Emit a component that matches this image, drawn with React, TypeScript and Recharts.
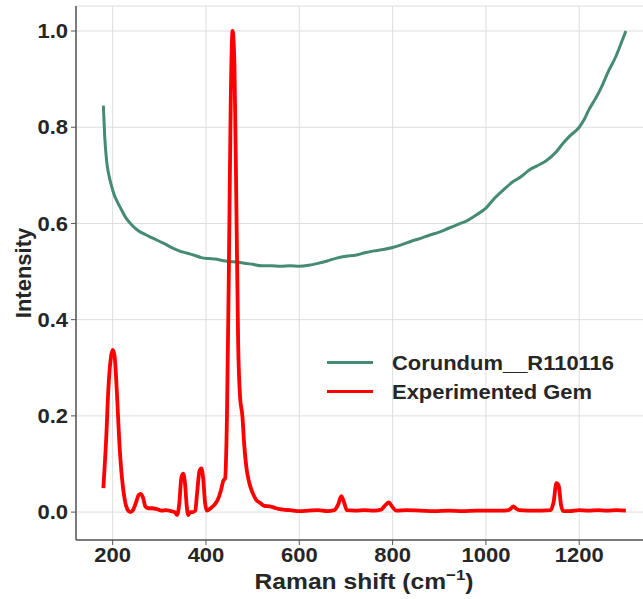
import React from "react";
import { LineChart, Line, XAxis, YAxis, CartesianGrid, Label } from "recharts";

const corundumX = [180, 183, 187, 192, 197, 203, 210, 218, 228, 240, 255, 270, 285, 300, 315, 330, 345, 360, 375, 390, 405, 420, 435, 450, 465, 480, 500, 520, 540, 560, 580, 600, 620, 640, 660, 680, 700, 720, 740, 760, 780, 800, 820, 840, 860, 880, 900, 920, 940, 960, 980, 1000, 1018, 1040, 1057, 1075, 1093, 1110, 1130, 1150, 1164, 1180, 1200, 1210, 1220, 1235, 1248, 1262, 1278, 1290, 1300];
const corundumY = [0.845, 0.78, 0.73, 0.7, 0.68, 0.66, 0.645, 0.63, 0.612, 0.598, 0.585, 0.577, 0.57, 0.563, 0.556, 0.548, 0.542, 0.538, 0.534, 0.529, 0.527, 0.526, 0.523, 0.521, 0.52, 0.518, 0.515, 0.512, 0.512, 0.511, 0.512, 0.511, 0.513, 0.517, 0.522, 0.528, 0.532, 0.534, 0.539, 0.543, 0.546, 0.55, 0.556, 0.563, 0.569, 0.576, 0.582, 0.59, 0.598, 0.606, 0.618, 0.632, 0.652, 0.672, 0.686, 0.697, 0.711, 0.72, 0.731, 0.748, 0.765, 0.782, 0.8, 0.815, 0.835, 0.86, 0.884, 0.915, 0.946, 0.975, 1.0];

const gemX = [180, 186, 191, 196, 200, 204, 209, 214, 220, 226, 232, 238, 244, 250, 256, 260, 265, 270, 276, 285, 295, 305, 315, 325, 333, 338, 343, 347, 351, 355, 359, 362, 366, 372, 377, 381, 386, 390, 394, 398, 402, 410, 418, 425, 432, 437, 441, 445, 449, 453, 457, 461, 465, 469, 473, 478, 482, 487, 493, 500, 508, 515, 525, 537, 550, 565, 580, 600, 620, 640, 660, 675, 683, 690, 696, 702, 720, 740, 760, 775, 785, 792, 800, 808, 830, 860, 890, 920, 950, 980, 1010, 1040, 1052, 1059, 1065, 1072, 1090, 1120, 1138, 1145, 1151, 1156, 1161, 1166, 1180, 1200, 1220, 1240, 1260, 1280, 1300];
const gemY = [0.05, 0.15, 0.26, 0.32, 0.337, 0.325, 0.25, 0.15, 0.07, 0.025, 0.005, 0.0, 0.005, 0.02, 0.036, 0.038, 0.03, 0.012, 0.008, 0.008, 0.006, 0.003, 0.004, 0.002, 0.0, -0.006, 0.02, 0.07, 0.08, 0.06, 0.01, -0.006, 0.0, 0.0, 0.003, 0.04, 0.085, 0.091, 0.07, 0.02, 0.003, 0.008, 0.015, 0.025, 0.045, 0.065, 0.07, 0.2, 0.5, 0.85, 1.0, 0.93, 0.65, 0.35, 0.24, 0.2, 0.14, 0.09, 0.06, 0.04, 0.025, 0.02, 0.013, 0.012, 0.008, 0.005, 0.004, 0.002, 0.003, 0.004, 0.002, 0.004, 0.015, 0.033, 0.02, 0.004, 0.003, 0.004, 0.003, 0.005, 0.015, 0.02, 0.01, 0.003, 0.004, 0.003, 0.002, 0.003, 0.002, 0.003, 0.003, 0.003, 0.006, 0.012, 0.007, 0.004, 0.003, 0.003, 0.004, 0.02, 0.06, 0.055, 0.015, 0.002, 0.002, 0.004, 0.003, 0.004, 0.003, 0.004, 0.003];

const xTicks = [200, 400, 600, 800, 1000, 1200];
const yTicks = [0.0, 0.2, 0.4, 0.6, 0.8, 1.0];

const seriesNames = ["Corundum__R110116", "Experimented Gem"];
const seriesColors = ["#458B74", "#ff0000"];

const corundumData = corundumX.map((x, i) => ({ x, y: corundumY[i] }));
const gemData = gemX.map((x, i) => ({ x, y: gemY[i] }));

const FONT = "'Liberation Sans', Arial, Helvetica, sans-serif";
const TEXT = "#262626";
const SPINE = "#555555";

const XTick = (props: any) => {
  const { x, y, payload } = props;
  return (
    <g transform={`translate(${x},${y})`}>
      <text transform="scale(1.1,1)" textAnchor="middle" dy="0.71em" fill={TEXT} fontSize={20} fontWeight={700} fontFamily={FONT}>
        {payload.value}
      </text>
    </g>
  );
};

const YTick = (props: any) => {
  const { x, y, payload } = props;
  return (
    <g transform={`translate(${x},${y})`}>
      <text transform="scale(1.1,1)" textAnchor="end" dy="0.355em" fill={TEXT} fontSize={20} fontWeight={700} fontFamily={FONT}>
        {Number(payload.value).toFixed(1)}
      </text>
    </g>
  );
};

const LegendBox = () => (
  <div
    style={{
      position: "absolute",
      left: 327,
      top: 348,
      fontFamily: FONT,
      fontWeight: 700,
      fontSize: 21,
      color: TEXT,
    }}
  >
    {seriesNames.map((n, i) => (
      <div key={n} style={{ display: "flex", alignItems: "center", height: 29 }}>
        <div style={{ width: 46, height: 3, background: seriesColors[i], marginRight: 19, flex: "none" }} />
        <span style={{ display: "inline-block", transform: "scaleX(1.045)", transformOrigin: "left center", whiteSpace: "nowrap" }}>{n}</span>
      </div>
    ))}
  </div>
);

export default function App() {
  return (
    <div style={{ position: "absolute", left: 0, top: 0, width: 643, height: 599, overflow: "hidden", background: "#fff" }}>
      <LineChart width={660} height={599} margin={{ top: 6, right: 8, left: 0, bottom: 0 }}>
        <CartesianGrid stroke="#dddddd" strokeWidth={1} />
        <XAxis
          dataKey="x"
          type="number"
          domain={[121.4, 1356]}
          allowDataOverflow
          ticks={xTicks}
          height={59}
          tickSize={5}
          tickMargin={3}
          stroke={SPINE}
          axisLine={{ stroke: SPINE, strokeWidth: 1.5 }}
          tickLine={{ stroke: SPINE }}
          tick={<XTick />}
        >
          <Label
            content={({ viewBox }: any) => (
              <g transform={`translate(${viewBox.x + viewBox.width / 2},${viewBox.y + 49})`}>
                <text
                  transform="scale(1.12,1)"
                  textAnchor="middle"
                  fill={TEXT}
                  fontSize={22}
                  fontWeight={700}
                  fontFamily={FONT}
                >
                  Raman shift (cm
                  <tspan dy={-9} fontSize={15}>−1</tspan>
                  <tspan dy={9}>)</tspan>
                </text>
              </g>
            )}
          />
        </XAxis>
        <XAxis
          xAxisId="top"
          orientation="top"
          dataKey="x"
          type="number"
          domain={[121.4, 1356]}
          allowDataOverflow
          height={0}
          tick={false}
          tickLine={false}
          axisLine={{ stroke: SPINE, strokeWidth: 1.5 }}
        />
        <YAxis
          type="number"
          domain={[-0.058, 1.052]}
          allowDataOverflow
          ticks={yTicks}
          width={76}
          tickSize={5}
          tickMargin={3}
          axisLine={{ stroke: SPINE, strokeWidth: 1.5 }}
          tickLine={{ stroke: SPINE }}
          tick={<YTick />}
        >
          <Label
            content={({ viewBox }: any) => (
              <text
                x={23}
                y={viewBox.y + viewBox.height / 2}
                textAnchor="middle"
                dominantBaseline="central"
                transform={`rotate(-90, 23, ${viewBox.y + viewBox.height / 2})`}
                fill={TEXT}
                fontSize={22}
                fontWeight={700}
                fontFamily={FONT}
              >
                Intensity
              </text>
            )}
          />
        </YAxis>
        <Line
          data={corundumData}
          dataKey="y"
          name={seriesNames[0]}
          type="monotone"
          stroke={seriesColors[0]}
          strokeWidth={3}
          dot={false}
          isAnimationActive={false}
        />
        <Line
          data={gemData}
          dataKey="y"
          name={seriesNames[1]}
          type="monotone"
          stroke={seriesColors[1]}
          strokeWidth={3.8}
          dot={false}
          isAnimationActive={false}
        />
      </LineChart>
      <LegendBox />
    </div>
  );
}
